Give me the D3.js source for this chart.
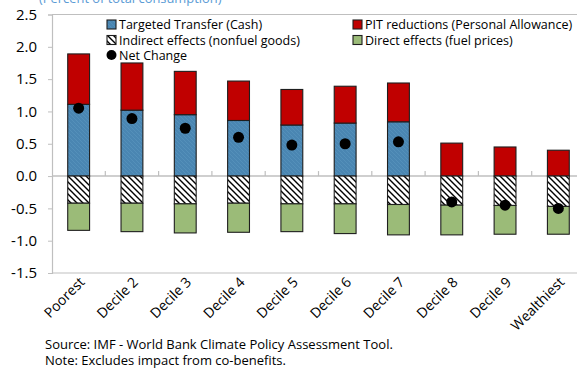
<!DOCTYPE html>
<html>
<head>
<meta charset="utf-8">
<script src="https://cdn.jsdelivr.net/npm/d3@7"></script>
<style>
  html, body { margin: 0; padding: 0; background: #fff; }
  svg { display: block; font-family: "Open Sans", "Noto Sans", sans-serif; }
</style>
</head>
<body>
<svg id="chart" width="577" height="368"></svg>
<script>
// Household deciles, poorest to wealthiest
const categories = ["Poorest", "Decile 2", "Decile 3", "Decile 4", "Decile 5",
                    "Decile 6", "Decile 7", "Decile 8", "Decile 9", "Wealthiest"];

// Components of the change (percent of total consumption)
const targetedTransfer = [1.11, 1.02, 0.95, 0.86, 0.79, 0.82, 0.84, 0, 0, 0];
const pitReductions    = [0.78, 0.73, 0.67, 0.61, 0.55, 0.57, 0.60, 0.51, 0.45, 0.40];
const indirectEffects  = [-0.42, -0.42, -0.43, -0.42, -0.43, -0.43, -0.44, -0.45, -0.455, -0.47];
const directEffects    = [-0.42, -0.44, -0.45, -0.45, -0.43, -0.46, -0.47, -0.46, -0.445, -0.43];
const netChange        = [1.05, 0.89, 0.74, 0.60, 0.48, 0.50, 0.53, -0.40, -0.45, -0.50];

const yTicks = [2.5, 2.0, 1.5, 1.0, 0.5, 0.0, -0.5, -1.0, -1.5];

const colors = {
  transfer: "#4a86b2",
  pit: "#c00000",
  direct: "#9bbb78",
  frame: "#bfbfbf",
  outline: "#1e1e1e",
  title: "#5b9bd5"
};

const svg = d3.select("#chart");
const margin = { left: 52, top: 14.5, right: 585, bottom: 273 };

const x = d3.scaleBand().domain(categories).range([margin.left, margin.right]).padding(0);
const y = d3.scaleLinear().domain([-1.5, 2.5]).range([margin.bottom, margin.top]);
const barW = x.bandwidth() * 0.41;

// Patterns: diagonal hatch for indirect effects, faint texture on transfers
const defs = svg.append("defs");
const hatch = defs.append("pattern").attr("id", "hatch")
  .attr("patternUnits", "userSpaceOnUse").attr("width", 6).attr("height", 6);
hatch.append("rect").attr("width", 6).attr("height", 6).attr("fill", "#fff");
hatch.append("path").attr("d", "M0,0L6,6M-1,5L1,7M5,-1L7,1")
  .attr("stroke", "#000").attr("stroke-width", 1.4);

const tex = defs.append("pattern").attr("id", "transferTex")
  .attr("patternUnits", "userSpaceOnUse").attr("width", 4).attr("height", 4);
tex.append("rect").attr("width", 4).attr("height", 4).attr("fill", colors.transfer);
tex.append("path").attr("d", "M0,0L4,4M-1,3L1,5M3,-1L5,1")
  .attr("stroke", "#5793bd").attr("stroke-width", 0.8);

// Title (partly above the visible area)
svg.append("text")
  .attr("x", 39).attr("y", 2.5)
  .attr("font-size", 12.9).attr("fill", colors.title)
  .text("(Percent of total consumption)");

// Frame: top and bottom borders
const frame = svg.append("g").attr("stroke", colors.frame).attr("stroke-width", 1.2).attr("fill", "none");
frame.append("line").attr("x1", margin.left).attr("x2", margin.right).attr("y1", y(2.5)).attr("y2", y(2.5));
frame.append("line").attr("x1", margin.left).attr("x2", margin.right).attr("y1", y(-1.5)).attr("y2", y(-1.5));

// Y axis
const yAxis = svg.append("g")
  .attr("transform", `translate(${margin.left},0)`)
  .call(d3.axisLeft(y).tickValues(yTicks).tickSize(4).tickPadding(11)
    .tickFormat(d => d3.format(".1f")(d).replace("−", "-")));
yAxis.select(".domain").attr("stroke", colors.frame).attr("stroke-width", 1.2);
yAxis.selectAll(".tick line").attr("stroke", colors.frame);
yAxis.selectAll(".tick text").attr("font-size", 15).attr("fill", "#000")
  .attr("font-family", "Open Sans, sans-serif");

// Zero line with small category separators
svg.append("line")
  .attr("x1", margin.left).attr("x2", margin.right)
  .attr("y1", y(0)).attr("y2", y(0))
  .attr("stroke", colors.frame).attr("stroke-width", 1.5);
svg.append("g").selectAll("line")
  .data(categories.slice(1))
  .join("line")
  .attr("x1", d => x(d)).attr("x2", d => x(d))
  .attr("y1", y(0) - 5).attr("y2", y(0))
  .attr("stroke", colors.frame).attr("stroke-width", 1.2);

// Stacked segments
const segs = [];
categories.forEach((c, i) => {
  const t = targetedTransfer[i], p = pitReductions[i];
  const ind = indirectEffects[i], dir = directEffects[i];
  if (t > 0) segs.push({ c, y0: 0, y1: t, fill: "url(#transferTex)" });
  segs.push({ c, y0: t, y1: t + p, fill: colors.pit });
  segs.push({ c, y0: ind, y1: 0, fill: "url(#hatch)" });
  segs.push({ c, y0: ind + dir, y1: ind, fill: colors.direct });
});

svg.append("g").selectAll("rect")
  .data(segs)
  .join("rect")
  .attr("x", d => x(d.c) + (x.bandwidth() - barW) / 2)
  .attr("width", barW)
  .attr("y", d => y(d.y1))
  .attr("height", d => y(d.y0) - y(d.y1))
  .attr("fill", d => d.fill)
  .attr("stroke", colors.outline)
  .attr("stroke-width", 1.1);

// Net change dots
svg.append("g").selectAll("circle")
  .data(categories)
  .join("circle")
  .attr("cx", d => x(d) + x.bandwidth() / 2)
  .attr("cy", (d, i) => y(netChange[i]))
  .attr("r", 5.5)
  .attr("fill", "#000");

// X labels, rotated
svg.append("g").selectAll("text")
  .data(categories)
  .join("text")
  .attr("transform", d => `translate(${x(d) + x.bandwidth() / 2 + 7},${y(-1.5) + 10}) rotate(-45)`)
  .attr("text-anchor", "end")
  .attr("font-size", 14)
  .attr("fill", "#000")
  .text(d => d);

// Legend
const legend = [
  { label: "Targeted Transfer (Cash)", fill: "url(#transferTex)", col: 0, row: 0 },
  { label: "Indirect effects (nonfuel goods)", fill: "url(#hatch)", col: 0, row: 1 },
  { label: "Net Change", dot: true, col: 0, row: 2 },
  { label: "PIT reductions (Personal Allowance)", fill: colors.pit, col: 1, row: 0 },
  { label: "Direct effects (fuel prices)", fill: colors.direct, col: 1, row: 1 }
];
const colX = [107, 353];
const rowY = [24.5, 40, 55];
const lg = svg.append("g");
legend.forEach(it => {
  const cx = colX[it.col], cy = rowY[it.row];
  if (it.dot) {
    lg.append("circle").attr("cx", cx + 4.5).attr("cy", cy).attr("r", 5).attr("fill", "#000");
  } else {
    lg.append("rect").attr("x", cx).attr("y", cy - 4.5).attr("width", 9).attr("height", 9)
      .attr("fill", it.fill).attr("stroke", colors.outline).attr("stroke-width", 1.1);
  }
  lg.append("text").attr("x", cx + 12).attr("y", cy + 4.5)
    .attr("font-size", 12.5).attr("fill", "#000").text(it.label);
});

// Notes
svg.append("text").attr("x", 45).attr("y", 348.5).attr("font-size", 13).attr("fill", "#000")
  .text("Source: IMF - World Bank Climate Policy Assessment Tool.");
svg.append("text").attr("x", 45).attr("y", 364.5).attr("font-size", 13).attr("fill", "#000")
  .text("Note: Excludes impact from co-benefits.");
</script>
</body>
</html>
